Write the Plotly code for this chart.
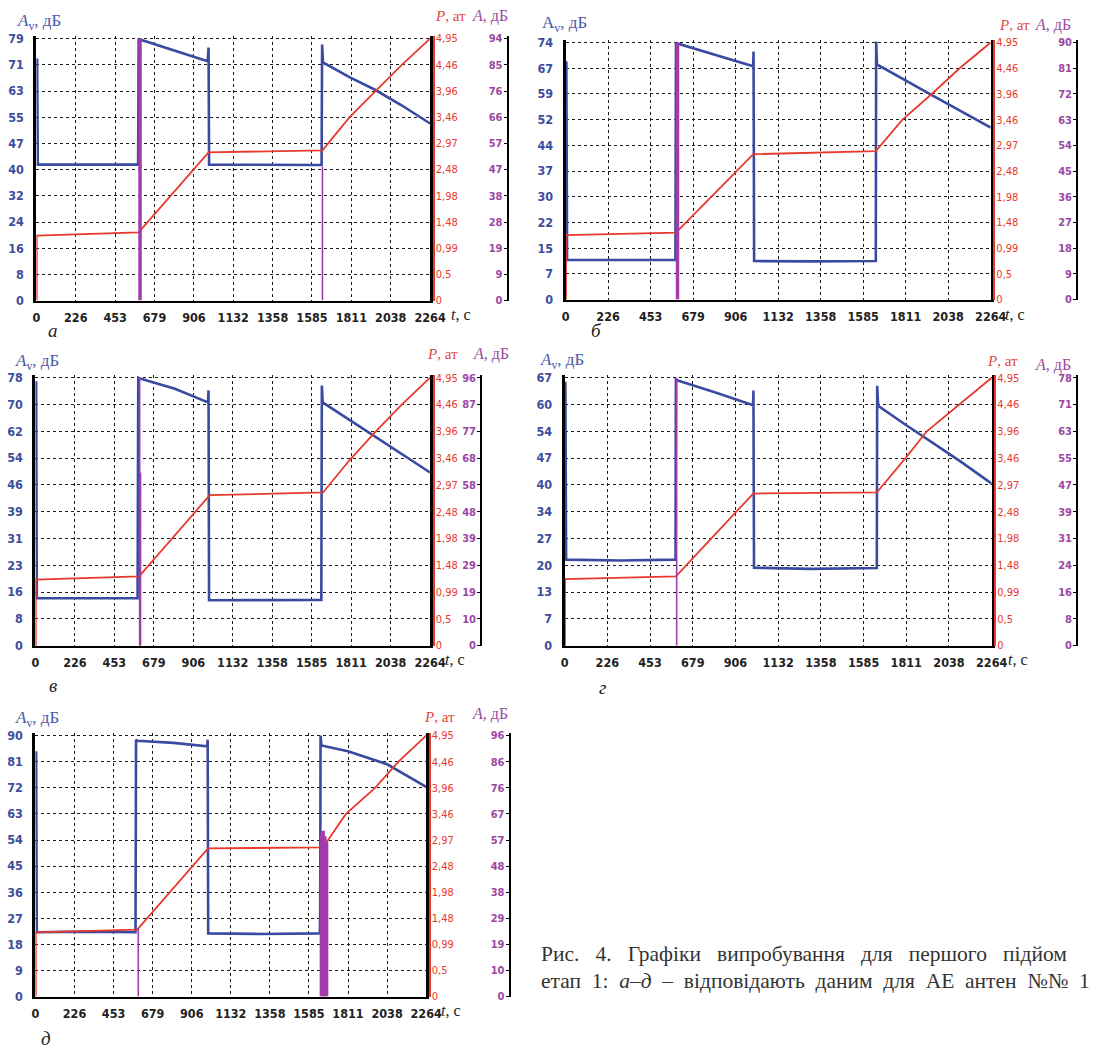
import plotly.graph_objects as go

W, H = 1099, 1056

# ---------------- shared axes ----------------
t_max = 2264
t_tick_labels = ["0", "226", "453", "679", "906", "1132", "1358", "1585", "1811", "2038", "2264"]
p_max = 4.95
p_tick_labels = ["0", "0,5", "0,99", "1,48", "1,98", "2,48", "2,97", "3,46", "3,96", "4,46", "4,95"]

# ---------------- panel а ----------------
a_av_max = 79
a_av_labels = ["0", "8", "16", "24", "32", "40", "47", "55", "63", "71", "79"]
a_ae_max = 94
a_ae_labels = ["0", "9", "19", "28", "38", "47", "57", "66", "76", "85", "94"]
a_av_t = [4, 8, 585, 588, 592, 985, 990, 993, 1300, 1640, 1643, 1648, 1800, 1950, 2100, 2264]
a_av = [73, 41, 41, 79, 78.8, 72.2, 76.3, 41, 40.9, 40.9, 77.2, 71.8, 67.4, 63.5, 58.9, 53.4]
a_p_t = [2, 2, 588, 990, 1645, 1800, 1950, 2100, 2264]
a_p = [0, 1.23, 1.29, 2.80, 2.84, 3.46, 3.96, 4.45, 4.95]
a_ae_t = [596, 596]
a_ae = [0, 94]
a_ae2_t = [1645, 1645]
a_ae2 = [0, 48]

# ---------------- panel б ----------------
b_av_max = 74
b_av_labels = ["0", "7", "15", "22", "30", "37", "44", "52", "59", "67", "74"]
b_ae_max = 90
b_ae_labels = ["0", "9", "18", "27", "36", "45", "54", "63", "72", "81", "90"]
b_av_t = [4, 8, 585, 588, 592, 999, 1001, 1004, 1300, 1652, 1654, 1658, 1960, 2264]
b_av = [68.6, 11.4, 11.4, 74, 73.8, 67.2, 71.4, 11.1, 11.0, 11.1, 74.3, 67.7, 58.6, 49.5]
b_p_t = [2, 2, 588, 1000, 1652, 1793, 1950, 2100, 2264]
b_p = [0, 1.24, 1.29, 2.80, 2.86, 3.46, 3.96, 4.46, 4.95]
b_ae_t = [596, 596]
b_ae = [0, 90]

# ---------------- panel в ----------------
c_av_max = 78
c_av_labels = ["0", "8", "16", "23", "31", "39", "46", "54", "62", "70", "78"]
c_ae_max = 96
c_ae_labels = ["0", "10", "19", "29", "39", "48", "58", "68", "77", "87", "96"]
c_av_t = [4, 8, 586, 590, 600, 800, 990, 993, 996, 1300, 1640, 1643, 1648, 2264]
c_av = [77, 13.8, 13.8, 78, 77.8, 74.8, 70.8, 74.3, 13.2, 13.3, 13.3, 75.7, 70.8, 50.4]
c_p_t = [2, 2, 595, 1000, 1650, 1800, 1950, 2100, 2264]
c_p = [0, 1.22, 1.28, 2.78, 2.83, 3.42, 3.95, 4.45, 4.95]
c_ae_t = [598, 598]
c_ae = [0, 96]
c_ae2_t = [603, 603]
c_ae2 = [0, 62]

# ---------------- panel г ----------------
d_av_max = 67
d_av_labels = ["0", "7", "13", "20", "27", "34", "40", "47", "54", "60", "67"]
d_ae_max = 78
d_ae_labels = ["0", "8", "16", "24", "31", "39", "47", "55", "63", "71", "78"]
d_av_t = [4, 8, 300, 588, 590, 600, 800, 999, 1001, 1004, 1300, 1655, 1657, 1662, 1800, 1950, 2100, 2264]
d_av = [66, 21.5, 21.3, 21.5, 66.5, 66.3, 63.3, 60.1, 63.8, 19.5, 19.2, 19.4, 65, 60, 55.5, 50.8, 46, 40.5]
d_p_t = [2, 2, 590, 1000, 1655, 1806, 1920, 2100, 2264]
d_p = [0, 1.23, 1.28, 2.81, 2.83, 3.46, 3.96, 4.48, 4.95]
d_ae_t = [594, 594]
d_ae = [0, 78]

# ---------------- panel д ----------------
e_av_max = 90
e_av_labels = ["0", "9", "18", "27", "36", "45", "54", "63", "72", "81", "90"]
e_ae_max = 96
e_ae_labels = ["0", "10", "19", "29", "38", "48", "57", "67", "76", "86", "96"]
e_av_t = [4, 8, 300, 580, 583, 590, 800, 995, 998, 1001, 1300, 1648, 1650, 1652, 1657, 1811, 2038, 2264]
e_av = [84.6, 22.2, 22.4, 22.2, 88.6, 88.2, 87.5, 86.3, 88.6, 21.8, 21.6, 21.8, 30, 90, 86.6, 84.6, 80.1, 72.3]
e_p_t = [2, 2, 590, 1000, 1660, 1685, 1798, 1968, 2105, 2264]
e_p = [0, 1.22, 1.27, 2.81, 2.83, 2.92, 3.46, 3.96, 4.46, 4.95]
e_ae_t = [596, 596]
e_ae = [0, 25]
e_ae2_t = [1657, 1657, None, 1667, 1667, None, 1677, 1677, None, 1687, 1687]
e_ae2 = [0, 60, None, 0, 61, None, 0, 59, None, 0, 57]

# ---------------- styling ----------------
SANS = "Liberation Sans Narrow, DejaVu Sans Condensed, Liberation Sans"
SERIF = "Liberation Serif"
BLUE_LINE = "#3a4aa0"
BLUE_TXT = "#3d4e9e"
RED = "#e8392e"
PURPLE = "#a23ca8"
PURPLE_TXT = "#9b47a2"
PAD = 0.01

panels = [
    dict(box=(33, 434, 34, 299), av_max=a_av_max, av_labels=a_av_labels,
         ae_max=a_ae_max, ae_labels=a_ae_labels, red_x=437.5, purple_x=513,
         av=(a_av_t, a_av), p=(a_p_t, a_p),
         ae_thick=[(a_ae_t, a_ae)], ae_thin=[(a_ae2_t, a_ae2)],
         av_title=(11, 17, True), p_title=(437, 11), ae_title=(475, 11),
         t_title=(453, 313), letter=("а", 50, 329)),
    dict(box=(572, 1005, 38, 298), av_max=b_av_max, av_labels=b_av_labels,
         ae_max=b_ae_max, ae_labels=b_ae_labels, red_x=1008.5, purple_x=1093,
         av=(b_av_t, b_av), p=(b_p_t, b_p),
         ae_thick=[(b_ae_t, b_ae)], ae_thin=[],
         av_title=(546, 19, False), p_title=(1011, 20), ae_title=(1048, 20),
         t_title=(1018, 313), letter=("б", 603, 329)),
    dict(box=(32, 434, 377, 648), av_max=c_av_max, av_labels=c_av_labels,
         ae_max=c_ae_max, ae_labels=c_ae_labels, red_x=437.5, purple_x=486,
         av=(c_av_t, c_av), p=(c_p_t, c_p),
         ae_thick=[], ae_thin=[(c_ae_t, c_ae), (c_ae2_t, c_ae2)],
         av_title=(9, 361, True), p_title=(429, 353), ae_title=(476, 353),
         t_title=(447, 662), letter=("в", 50, 688)),
    dict(box=(571, 1006, 377, 648), av_max=d_av_max, av_labels=d_av_labels,
         ae_max=d_ae_max, ae_labels=d_ae_labels, red_x=1009.5, purple_x=1093,
         av=(d_av_t, d_av), p=(d_p_t, d_p),
         ae_thick=[], ae_thin=[(d_ae_t, d_ae)],
         av_title=(544, 360, True), p_title=(999, 360), ae_title=(1048, 364),
         t_title=(1021, 662), letter=("г", 610, 690)),
    dict(box=(32, 430, 739, 1003), av_max=e_av_max, av_labels=e_av_labels,
         ae_max=e_ae_max, ae_labels=e_ae_labels, red_x=433.5, purple_x=515,
         av=(e_av_t, e_av), p=(e_p_t, e_p),
         ae_thick=[(e_ae2_t, e_ae2)], ae_thin=[(e_ae_t, e_ae)],
         av_title=(9, 722, True), p_title=(426, 720), ae_title=(475, 717),
         t_title=(443, 1017), letter=("д", 43, 1045)),
]


def ticks(vmax):
    return [vmax * i / 10 for i in range(11)]


fig = go.Figure()
layout = {}
annotations = []

for i, pn in enumerate(panels):
    x0, x1, ytop, ybot = pn["box"]
    n = i + 1
    xid = "x" if n == 1 else f"x{n}"
    yl, yr, yp = 3 * i + 1, 3 * i + 2, 3 * i + 3
    yl_id = "y" if yl == 1 else f"y{yl}"
    yr_id, yp_id = f"y{yr}", f"y{yp}"
    xkey = "xaxis" if n == 1 else f"xaxis{n}"
    ylkey = "yaxis" if yl == 1 else f"yaxis{yl}"

    top_px = ytop - (ybot - ytop) * PAD
    ydom = [1 - ybot / H, 1 - top_px / H]
    xdom = [x0 / W, x1 / W]

    layout[xkey] = dict(
        domain=xdom, anchor=yl_id, range=[0, t_max],
        tickmode="array", tickvals=ticks(t_max), ticktext=t_tick_labels,
        showgrid=True, gridcolor="#1a1a1a", griddash="dot", gridwidth=1,
        showline=True, linecolor="black", linewidth=2, ticks="",
        zeroline=False, ticklabelstandoff=4,
        tickfont=dict(family=SANS, size=12.5, color="#222222", weight="bold"),
    )
    layout[ylkey] = dict(
        domain=ydom, anchor=xid, range=[0, pn["av_max"] * (1 + PAD)],
        tickmode="array", tickvals=ticks(pn["av_max"]), ticktext=pn["av_labels"],
        showgrid=True, gridcolor="#1a1a1a", griddash="dot", gridwidth=1,
        showline=True, linecolor="black", linewidth=3, mirror=True, ticks="",
        zeroline=False, ticklabelstandoff=7,
        tickfont=dict(family=SANS, size=12.5, color=BLUE_TXT, weight="bold"),
    )
    layout[f"yaxis{yr}"] = dict(
        overlaying=yl_id, side="right", anchor="free", position=pn["red_x"] / W,
        range=[0, p_max * (1 + PAD)],
        tickmode="array", tickvals=ticks(p_max), ticktext=p_tick_labels,
        showgrid=False, showline=True, linecolor=RED, linewidth=2,
        ticks="", zeroline=False, ticklabelstandoff=-1,
        tickfont=dict(family=SANS, size=11, color=RED),
    )
    layout[f"yaxis{yp}"] = dict(
        overlaying=yl_id, side="left", anchor="free", position=pn["purple_x"] / W,
        range=[0, pn["ae_max"] * (1 + PAD)],
        tickmode="array", tickvals=ticks(pn["ae_max"]), ticktext=pn["ae_labels"],
        showgrid=False, showline=True, linecolor="black", linewidth=2,
        ticks="outside", ticklen=3, tickcolor="black", zeroline=False,
        ticklabelstandoff=-1,
        tickfont=dict(family=SANS, size=11, color=PURPLE_TXT, weight="bold"),
    )

    # pressure
    fig.add_trace(go.Scatter(x=pn["p"][0], y=pn["p"][1], xaxis=xid, yaxis=yr_id,
                             mode="lines", line=dict(color=RED, width=1.8),
                             hoverinfo="skip", showlegend=False))
    # A_v amplitude
    fig.add_trace(go.Scatter(x=pn["av"][0], y=pn["av"][1], xaxis=xid, yaxis=yl_id,
                             mode="lines", line=dict(color=BLUE_LINE, width=2.6),
                             hoverinfo="skip", showlegend=False))
    # acoustic emission amplitude A
    for tt, vv in pn["ae_thick"]:
        fig.add_trace(go.Scatter(x=tt, y=vv, xaxis=xid, yaxis=yp_id,
                                 mode="lines", line=dict(color=PURPLE, width=3.5),
                                 connectgaps=False, hoverinfo="skip", showlegend=False))
    for tt, vv in pn["ae_thin"]:
        fig.add_trace(go.Scatter(x=tt, y=vv, xaxis=xid, yaxis=yp_id,
                                 mode="lines", line=dict(color=PURPLE, width=1.6),
                                 hoverinfo="skip", showlegend=False))

    # axis titles
    ax, ay, ital = pn["av_title"]
    av_txt = "<i>A</i><sub>v</sub>, дБ" if ital else "A<sub>v</sub>, дБ"
    annotations.append(dict(text=av_txt, x=ax / W, y=1 - ay / H, xref="paper", yref="paper",
                            xanchor="left", yanchor="middle", showarrow=False,
                            font=dict(family=SERIF, size=17, color="#4a5aa6")))
    px_, py_ = pn["p_title"]
    annotations.append(dict(text="<i>P</i>, ат", x=px_ / W, y=1 - py_ / H, xref="paper", yref="paper",
                            xanchor="left", yanchor="middle", showarrow=False,
                            font=dict(family=SERIF, size=15, color="#e2463b")))
    qx, qy = pn["ae_title"]
    annotations.append(dict(text="<i>A</i>, дБ", x=qx / W, y=1 - qy / H, xref="paper", yref="paper",
                            xanchor="left", yanchor="middle", showarrow=False,
                            font=dict(family=SERIF, size=16, color="#9a4c9e")))
    tx, ty = pn["t_title"]
    annotations.append(dict(text="<i>t</i>, с", x=tx / W, y=1 - ty / H, xref="paper", yref="paper",
                            xanchor="left", yanchor="middle", showarrow=False,
                            font=dict(family=SERIF, size=16, color="#222222")))
    lt, lx, ly = pn["letter"]
    annotations.append(dict(text=f"<i>{lt}</i>", x=lx / W, y=1 - ly / H, xref="paper", yref="paper",
                            xanchor="center", yanchor="middle", showarrow=False,
                            font=dict(family=SERIF, size=19, color="#222222")))

# figure caption (justified-looking word spacing)
NB = "\u00a0"
cap_line1 = ["Рис.", "4.", "Графіки", "випробування", "для", "першого", "підйом"]
cap_line2 = ["етап", "1:", "<i>а–д</i>", "–", "відповідають", "даним", "для", "АЕ", "антен", "№№", "1"]
annotations.append(dict(text=(NB * 2 + " ").join(cap_line1),
                        x=545 / W, y=1 - 960 / H, xref="paper", yref="paper",
                        xanchor="left", yanchor="middle", showarrow=False,
                        font=dict(family=SERIF, size=21.5, color="#333333")))
annotations.append(dict(text=(NB + " ").join(cap_line2),
                        x=545 / W, y=1 - 987 / H, xref="paper", yref="paper",
                        xanchor="left", yanchor="middle", showarrow=False,
                        font=dict(family=SERIF, size=21.5, color="#333333")))

fig.update_layout(
    width=W, height=H,
    margin=dict(l=0, r=0, t=0, b=0),
    paper_bgcolor="white", plot_bgcolor="white",
    showlegend=False,
    annotations=annotations,
    **layout,
)

fig.write_html("out.html")
